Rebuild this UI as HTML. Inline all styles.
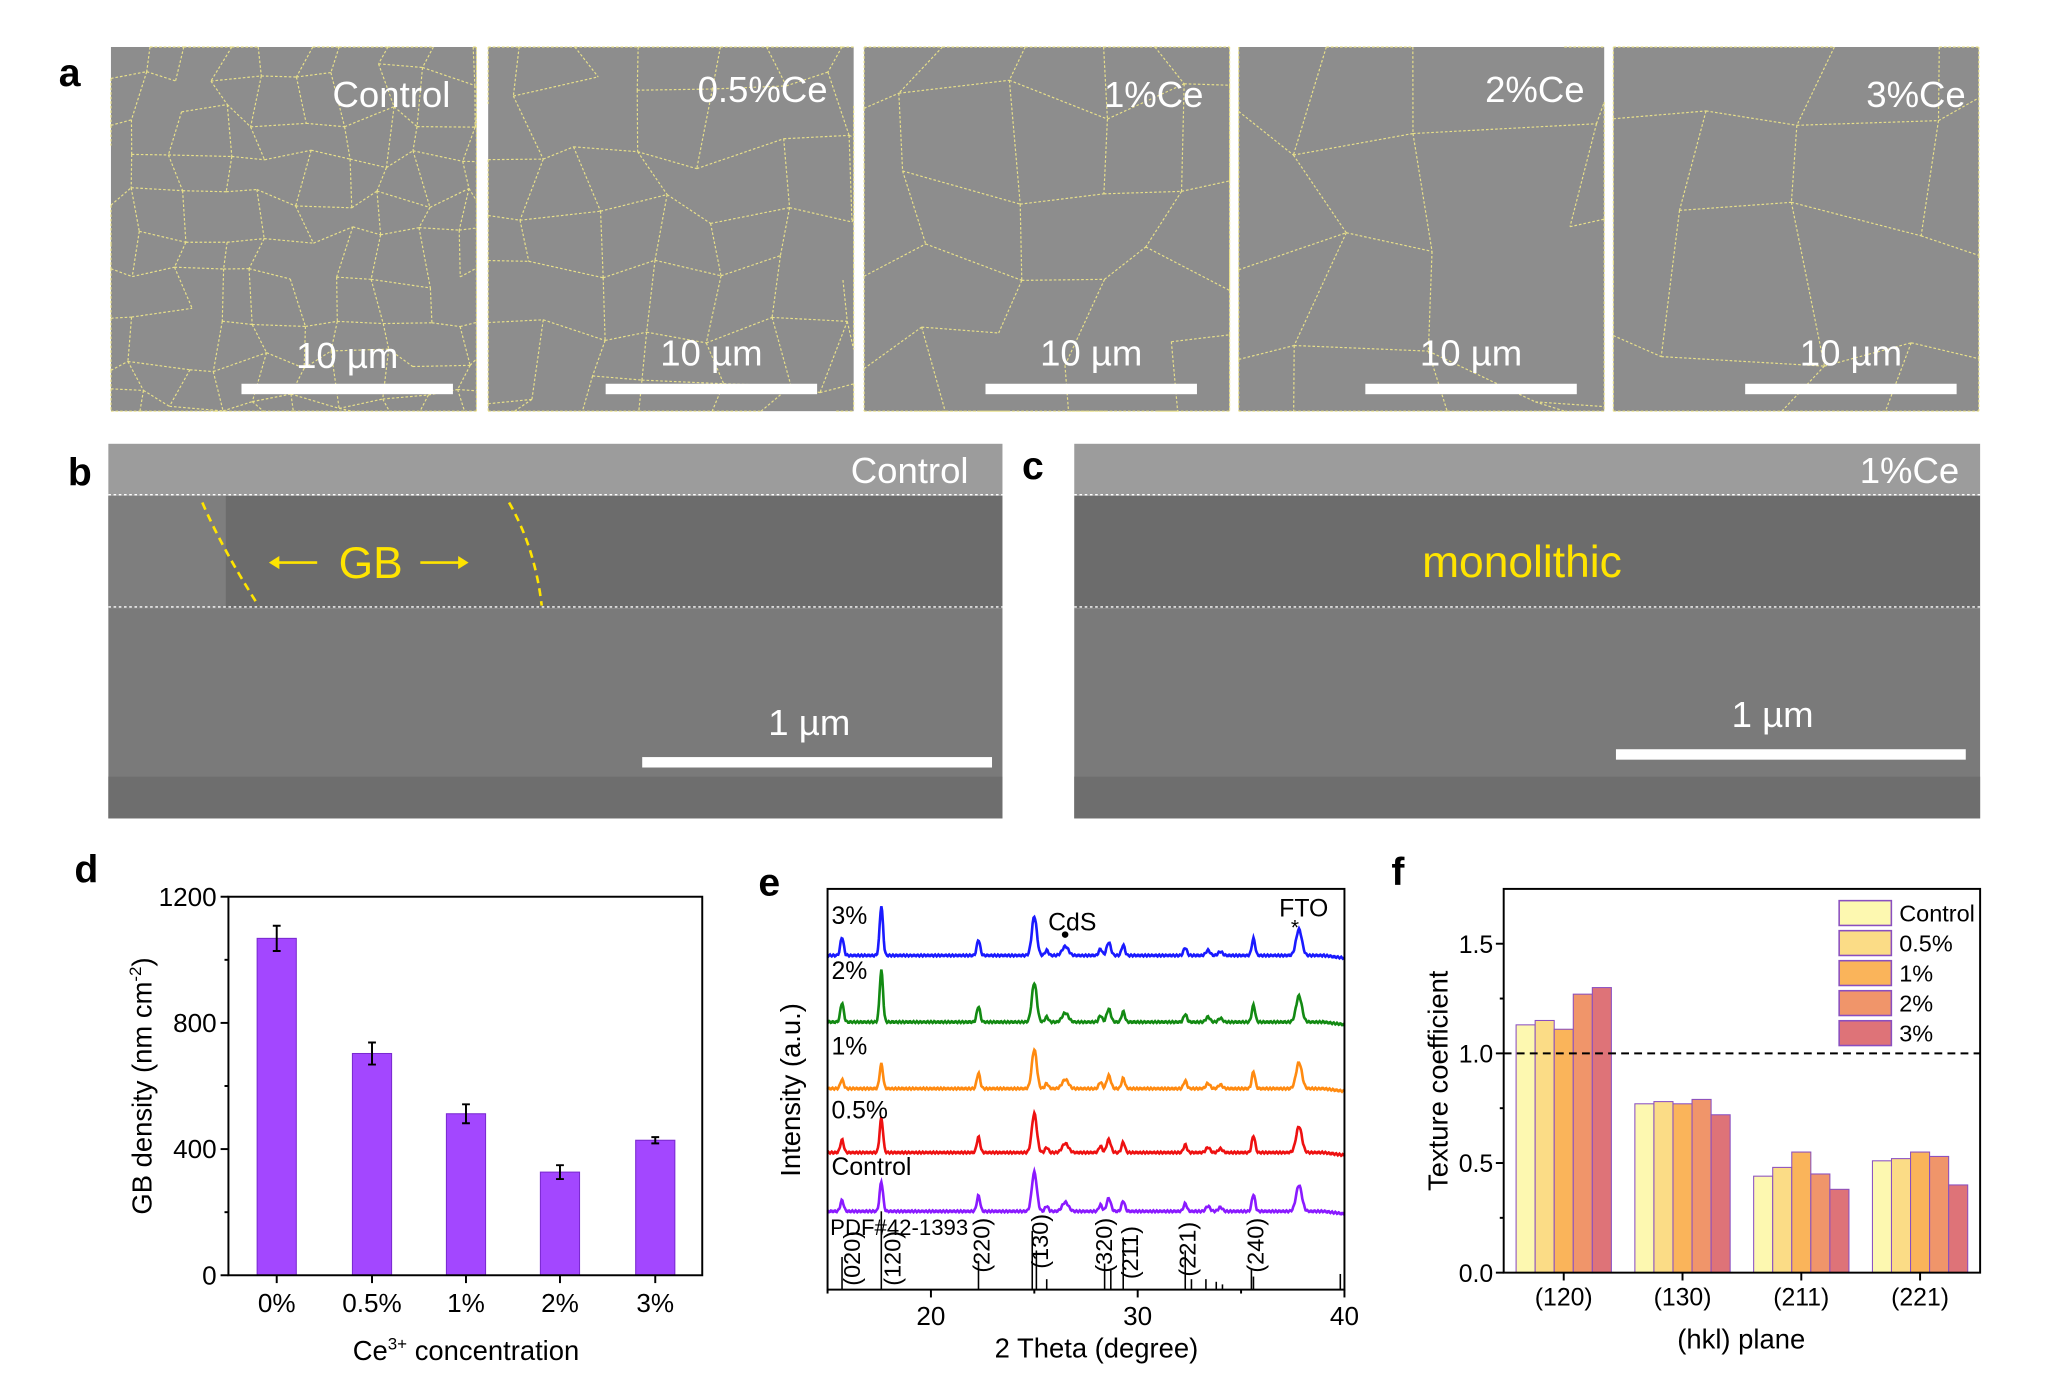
<!DOCTYPE html>
<html><head><meta charset="utf-8"><style>
html,body{margin:0;padding:0;background:#fff}
svg{display:block}
text{font-family:"Liberation Sans",Arial,sans-serif}
</style></head><body>
<svg id="s" width="2048" height="1393" viewBox="0 0 1569 1067.2" xmlns="http://www.w3.org/2000/svg">
<rect width="1569" height="1070" fill="#fff"/>
<text x="45" y="66" font-size="30" font-weight="bold">a</text>
<g id="pa"></g>
<text x="52" y="372" font-size="30" font-weight="bold">b</text>
<text x="783" y="367" font-size="30" font-weight="bold">c</text>
<rect x="83" y="340" width="685" height="40" fill="#9c9c9c"/>
<rect x="83" y="380" width="685" height="86" fill="#6c6c6c"/>
<rect x="83" y="380" width="90" height="86" fill="#7e7e7e"/>
<rect x="83" y="466" width="685" height="161" fill="#7a7a7a"/>
<rect x="83" y="595" width="685" height="32" fill="#6e6e6e"/>
<rect x="823" y="340" width="694" height="40" fill="#9c9c9c"/>
<rect x="823" y="380" width="694" height="86" fill="#6c6c6c"/>
<rect x="823" y="466" width="694" height="161" fill="#7a7a7a"/>
<rect x="823" y="595" width="694" height="32" fill="#6e6e6e"/>
<g stroke="#fff" stroke-dasharray="2,2" stroke-width="1">
<line x1="83" y1="379" x2="768" y2="379"/><line x1="83" y1="465" x2="768" y2="465"/>
<line x1="823" y1="379" x2="1517" y2="379"/><line x1="823" y1="465" x2="1517" y2="465"/></g>
<g stroke="#ffe400" stroke-width="2" stroke-dasharray="6,4" fill="none">
<path d="M155 385 Q170 420 198 464"/><path d="M390 385 Q410 420 415 464"/></g>
<text x="284" y="443" font-size="34" fill="#ffe400" text-anchor="middle">GB</text>
<g stroke="#ffe400" stroke-width="2"><line x1="210" y1="431" x2="243" y2="431"/><line x1="322" y1="431" x2="355" y2="431"/></g>
<path d="M206 431 l8 -5 v10z M359 431 l-8 -5 v10z" fill="#ffe400"/>
<text x="1166" y="442" font-size="34" fill="#ffe400" text-anchor="middle">monolithic</text>
<text x="742" y="370" font-size="28" fill="#fff" text-anchor="end">Control</text>
<text x="1501" y="370" font-size="28" fill="#fff" text-anchor="end">1%Ce</text>
<rect x="492" y="580" width="268" height="8" fill="#fff"/>
<rect x="1238" y="574" width="268" height="8" fill="#fff"/>
<text x="620" y="563" font-size="28" fill="#fff" text-anchor="middle">1 µm</text>
<text x="1358" y="557" font-size="28" fill="#fff" text-anchor="middle">1 µm</text>
<text x="57" y="676" font-size="30" font-weight="bold">d</text>
<g id="pd"></g>
<text x="581" y="686" font-size="30" font-weight="bold">e</text>
<g id="pe"></g>
<text x="1066" y="678" font-size="30" font-weight="bold">f</text>
<g id="pf"></g>
</svg>
<script>
const NS="http://www.w3.org/2000/svg";
function el(p,t,a,txt){const e=document.createElementNS(NS,t);for(const k in a)e.setAttribute(k,a[k]);if(txt!==undefined)e.textContent=txt;document.getElementById(p).appendChild(e);return e;}
const ax=[85,374,662,949,1236],labs=["Control","0.5%Ce","1%Ce","2%Ce","3%Ce"],cells=[9,6,4.5,3,3.3];
let seed=3;function rnd(){seed=(seed*9301+49297)%233280;return seed/233280;}
ax.forEach((x,i)=>{el("pa","rect",{x:x,y:36,width:280,height:279,fill:"#8d8d8d"});
 const n=Math.round(cells[i]),st=280/cells[i];let P=[];
 for(let r=0;r<=n+1;r++){P[r]=[];for(let c=0;c<=n+1;c++){P[r][c]=[x+(c-0.3)*st+(rnd()-0.5)*st*0.6,36+(r-0.3)*st+(rnd()-0.5)*st*0.6];}}
 let d="";const cl=p=>[Math.min(x+280,Math.max(x,p[0])).toFixed(1),Math.min(315,Math.max(36,p[1])).toFixed(1)].join(" ");
 for(let r=0;r<=n+1;r++)for(let c=0;c<=n+1;c++){if(c<n+1&&rnd()>0.12)d+="M"+cl(P[r][c])+"L"+cl(P[r][c+1]);if(r<n+1&&rnd()>0.12)d+="M"+cl(P[r][c])+"L"+cl(P[r+1][c]);}
 el("pa","path",{d:d,fill:"none",stroke:"#e8e08a","stroke-width":0.9,"stroke-dasharray":"2,1.5"});
 el("pa","text",{x:x+[260,260,260,265,270][i],y:[82,78,82,78,82][i],"font-size":28,fill:"#fff","text-anchor":"end"},labs[i]);
 const bx=[185,464,755,1046,1337][i];
 el("pa","rect",{x:bx,y:294,width:162,height:8,fill:"#fff"});
 el("pa","text",{x:bx+81,y:[282,280,280,280,280][i],"font-size":28,fill:"#fff","text-anchor":"middle"},"10 µm");
});
(function(){const X0=175,X1=538,Y0=977,Y1=687,yv=v=>Y0-v*(Y0-Y1)/1200;
 const xs=[212,285,357,429,502],vals=[1068,703,512,327,428],er=[40,35,30,22,10],lb=["0%","0.5%","1%","2%","3%"];
 xs.forEach((x,i)=>{el("pd","rect",{x:x-15,y:yv(vals[i]),width:30,height:Y0-yv(vals[i]),fill:"#a347ff",stroke:"#7a2ad0","stroke-width":0.8});
  el("pd","path",{d:`M${x} ${yv(vals[i]+er[i])}V${yv(vals[i]-er[i])}M${x-3} ${yv(vals[i]+er[i])}h6M${x-3} ${yv(vals[i]-er[i])}h6`,stroke:"#000","stroke-width":1.5,fill:"none"});
  el("pd","text",{x:x,y:1005,"font-size":20,"text-anchor":"middle"},lb[i]);
  el("pd","line",{x1:x,y1:Y0,x2:x,y2:Y0+6,stroke:"#000","stroke-width":1.5});});
 el("pd","rect",{x:X0,y:Y1,width:X1-X0,height:Y0-Y1,fill:"none",stroke:"#000","stroke-width":1.5});
 [0,400,800,1200].forEach(v=>{el("pd","line",{x1:X0-6,y1:yv(v),x2:X0,y2:yv(v),stroke:"#000","stroke-width":1.5});
  el("pd","text",{x:X0-9,y:yv(v)+7,"font-size":20,"text-anchor":"end"},v);});
 [200,600,1000].forEach(v=>el("pd","line",{x1:X0-3,y1:yv(v),x2:X0,y2:yv(v),stroke:"#000","stroke-width":1.5}));
 el("pd","text",{x:357,y:1042,"font-size":21,"text-anchor":"middle"}).innerHTML='Ce<tspan dy="-8" font-size="13">3+</tspan><tspan dy="8"> concentration</tspan>';
 el("pd","text",{x:0,y:0,"font-size":21,"text-anchor":"middle",transform:"translate(116,832) rotate(-90)"}).innerHTML='GB density (nm cm<tspan dy="-8" font-size="13">-2</tspan><tspan dy="8">)</tspan>';
})();
(function(){const X0=634,X1=1030,Y0=988,Y1=681,xv=t=>X0+(t-15)*(X1-X0)/25;
 const pk=[[15.7,14,.08],[17.6,38,.08],[22.3,12,.08],[25.0,30,.12],[25.6,4,.08],[26.5,7,.15],[28.2,5,.08],[28.6,10,.1],[29.3,8,.08],[32.3,6,.08],[33.4,4,.1],[34.0,3,.1],[35.6,13,.08],[37.8,20,.14]];
 const tr=[[732,"#1a1aff",1],[783,"#138a13",1.05],[834,"#ff8a10",0.5],[883,"#ee1111",0.7],[928,"#8a1aff",0.6]];
 tr.forEach(([b,c,s],ii)=>{let d="";for(let t=15;t<=40;t+=0.04){let y=0;pk.forEach(p=>{let h=p[1];if(p[0]===17.6||p[0]===15.7)h*=s;y+=h*Math.exp(-((t-p[0])**2)/(2*p[2]*p[2]));});
  y+=Math.sin(t*37.1+ii)*0.7+(t>39?-(t-39)*2:0);d+=(d?"L":"M")+xv(t).toFixed(1)+" "+(b-y).toFixed(1);}
  el("pe","path",{d:d,fill:"none",stroke:c,"stroke-width":2});});
 [["3%",708],["2%",750],["1%",808],["0.5%",857],["Control",900]].forEach(([t,y])=>el("pe","text",{x:637,y:y,"font-size":19},t));
 el("pe","text",{x:803,y:713,"font-size":19},"CdS");el("pe","circle",{cx:816,cy:716,r:2.5});
 el("pe","text",{x:980,y:702,"font-size":19},"FTO");el("pe","text",{x:989,y:716,"font-size":16},"*");
 el("pe","text",{x:636,y:946,"font-size":17},"PDF#42-1393");
 const st=[[15.7,25],[17.6,60],[22.3,22],[24.9,45],[25.1,30],[25.6,8],[28.4,20],[28.7,15],[29.3,40],[32.3,30],[32.6,8],[33.3,8],[33.8,6],[34.1,4],[35.5,15],[35.6,10],[39.8,12]];
 st.forEach(([t,h])=>el("pe","line",{x1:xv(t),y1:Y0,x2:xv(t),y2:Y0-h,stroke:"#000","stroke-width":1.2}));
 [["(020)",653,985],["(120)",684,985],["(220)",752,975],["(130)",797,972],["(320)",846,975],["(211)",866,980],["(221)",910,978],["(240)",962,975]].forEach(([t,x,yb])=>
  el("pe","text",{x:0,y:0,"font-size":18,"text-anchor":"start",transform:`translate(${x+6},${yb}) rotate(-90)`},t));
 el("pe","rect",{x:X0,y:Y1,width:X1-X0,height:Y0-Y1,fill:"none",stroke:"#000","stroke-width":1.5});
 [20,30,40].forEach(t=>{el("pe","line",{x1:xv(t),y1:Y0,x2:xv(t),y2:Y0+6,stroke:"#000","stroke-width":1.5});el("pe","text",{x:xv(t),y:1015,"font-size":20,"text-anchor":"middle"},t);});
 [15,25,35].forEach(t=>el("pe","line",{x1:xv(t),y1:Y0,x2:xv(t),y2:Y0+3,stroke:"#000","stroke-width":1.5}));
 el("pe","text",{x:840,y:1040,"font-size":21,"text-anchor":"middle"},"2 Theta (degree)");
 el("pe","text",{x:0,y:0,"font-size":21,"text-anchor":"middle",transform:"translate(613,835) rotate(-90)"},"Intensity (a.u.)");
})();
(function(){const X0=1152,X1=1517,Y0=975,Y1=681,yv=v=>Y0-v*168;
 const cols=["#fdf8b0","#fbdc86","#fab45a","#f0956a","#de7378"],cx=[1198,1289,1380,1471];
 const V=[[1.13,1.15,1.11,1.27,1.30],[.77,.78,.77,.79,.72],[.44,.48,.55,.45,.38],[.51,.52,.55,.53,.40]],L=["(120)","(130)","(211)","(221)"];
 cx.forEach((c,g)=>{V[g].forEach((v,i)=>el("pf","rect",{x:c-36.5+i*14.6,y:yv(v),width:14.6,height:Y0-yv(v),fill:cols[i],stroke:"#8a4fc0","stroke-width":0.8}));
  el("pf","line",{x1:c,y1:Y0,x2:c,y2:Y0+6,stroke:"#000","stroke-width":1.5});
  el("pf","text",{x:c,y:1000,"font-size":19,"text-anchor":"middle"},L[g]);});
 el("pf","line",{x1:X0,y1:yv(1),x2:X1,y2:yv(1),stroke:"#000","stroke-width":1.5,"stroke-dasharray":"6,4"});
 el("pf","rect",{x:X0,y:Y1,width:X1-X0,height:Y0-Y1,fill:"none",stroke:"#000","stroke-width":1.5});
 [0,.5,1,1.5].forEach(v=>{el("pf","line",{x1:X0-6,y1:yv(v),x2:X0,y2:yv(v),stroke:"#000","stroke-width":1.5});el("pf","text",{x:X0-8,y:yv(v)+7,"font-size":19,"text-anchor":"end"},v.toFixed(1));});
 [.25,.75,1.25].forEach(v=>el("pf","line",{x1:X0-3,y1:yv(v),x2:X0,y2:yv(v),stroke:"#000","stroke-width":1.5}));
 ["Control","0.5%","1%","2%","3%"].forEach((t,i)=>{el("pf","rect",{x:1409,y:690+i*23,width:40,height:19,fill:cols[i],stroke:"#8a4fc0","stroke-width":1.2});el("pf","text",{x:1455,y:706+i*23,"font-size":18},t);});
 el("pf","text",{x:1334,y:1033,"font-size":21,"text-anchor":"middle"},"(hkl) plane");
 el("pf","text",{x:0,y:0,"font-size":21,"text-anchor":"middle",transform:"translate(1109,828) rotate(-90)"},"Texture coefficient");
})();
</script>
</body></html>
